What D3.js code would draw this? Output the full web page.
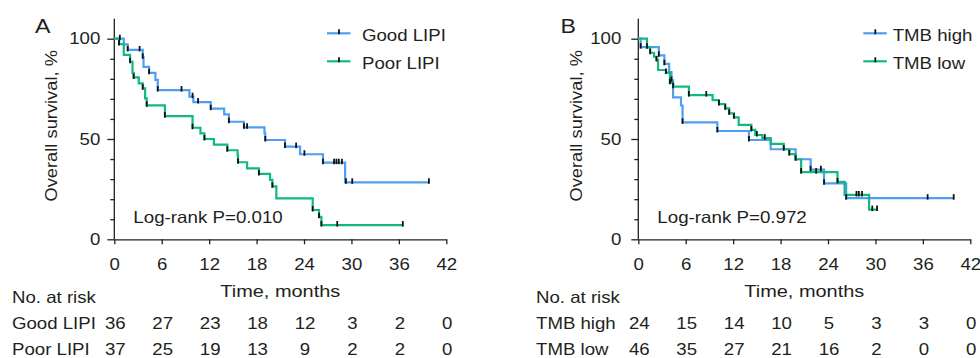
<!DOCTYPE html>
<html>
<head>
<meta charset="utf-8">
<script src="https://cdn.jsdelivr.net/npm/d3@7"></script>
<style>
  body { margin: 0; background: #fff; }
  svg text { font-family: "Liberation Sans", Arial, sans-serif; fill: #231f20; }
</style>
</head>
<body>
<svg id="chart" width="980" height="358"></svg>
<script>
// x ticks / risk table time points (months)
let riskTimes = [0, 6, 12, 18, 24, 30, 36, 42];

// panel A - LIPI
let goodTime = [0, 1.2, 1.7, 3.6, 3.7, 4.4, 5.2, 5.5, 9.5, 10.0, 12.2, 13.9, 14.5, 16.4, 19.0, 19.1, 21.6, 23.5, 26.4, 29.2];
let goodSurv = [100, 97.2, 94.4, 90.7, 86.0, 83.0, 79.5, 74.4, 71.1, 68.4, 65.1, 62.3, 58.6, 55.8, 52.8, 49.5, 46.2, 42.4, 38.2, 28.4];
let goodEnd = 39.8;
let goodCensor = [0.7, 1.7, 3.2, 3.6, 4.4, 5.5, 8.5, 9.9, 10.6, 12.2, 14.5, 16.4, 16.8, 19.1, 21.6, 23.0, 24.05, 26.4, 27.8, 28.1, 28.4, 28.8, 29.3, 30.1, 39.8];

let poorTime = [0, 0.6, 1.2, 2.0, 2.3, 2.45, 3.1, 3.6, 3.9, 4.1, 6.4, 9.9, 10.9, 11.4, 12.6, 14.3, 15.6, 15.65, 16.8, 18.3, 19.7, 20.0, 20.5, 25.1, 25.9, 26.2];
let poorSurv = [100, 97.3, 91.9, 88.5, 83.0, 80.7, 77.7, 75.3, 70.3, 66.8, 61.4, 55.6, 52.8, 50.0, 47.2, 44.4, 41.7, 38.4, 35.4, 32.6, 29.6, 26.4, 20.4, 14.6, 11.2, 7.1];
let poorEnd = 36.5;
let poorCensor = [0.6, 2.0, 2.45, 3.6, 4.1, 6.4, 9.9, 11.4, 14.3, 15.65, 18.3, 20.0, 25.1, 25.9, 26.2, 28.2, 36.5];

let goodRisk = [36, 27, 23, 18, 12, 3, 2, 0];
let poorRisk = [37, 25, 19, 13, 9, 2, 2, 0];

// panel B - TMB
let highTime = [0, 0.3, 2.6, 3.3, 3.9, 4.2, 4.4, 5.4, 5.6, 10.0, 14.0, 16.75, 19.9, 21.8, 23.5, 26.3];
let highSurv = [100, 95.8, 91.7, 87.5, 83.3, 79.2, 70.8, 66.7, 58.3, 54.0, 49.5, 44.9, 39.9, 34.7, 27.9, 20.5];
let highEnd = 39.9;
let highCensor = [0.3, 2.6, 3.3, 4.2, 5.6, 10.0, 14.0, 19.9, 21.8, 23.1, 23.5, 26.3, 36.6, 39.9];

let lowTime = [0, 1.1, 1.5, 2.0, 2.3, 2.5, 3.5, 4.0, 4.4, 6.4, 9.4, 10.2, 11.0, 11.5, 12.1, 12.7, 14.3, 14.8, 15.7, 16.75, 18.4, 19.1, 19.9, 20.6, 25.2, 26.1, 29.2];
let lowSurv = [100, 95.7, 93.0, 91.0, 89.4, 84.4, 83.1, 78.1, 76.1, 71.9, 69.4, 67.4, 65.3, 62.8, 60.8, 57.0, 54.5, 52.0, 50.4, 47.6, 44.9, 42.5, 39.9, 33.5, 28.6, 22.1, 14.8];
let lowEnd = 30.2;
let lowCensor = [1.1, 1.5, 2.3, 3.5, 4.0, 4.4, 6.4, 8.6, 10.2, 11.0, 11.5, 12.1, 14.3, 15.0, 16.0, 18.4, 19.1, 20.6, 22.5, 25.2, 27.6, 27.9, 28.3, 29.6, 30.2];

let highRisk = [24, 15, 14, 10, 5, 3, 3, 0];
let lowRisk = [46, 35, 27, 21, 16, 2, 0, 0];

const BLUE = "#4f9ef2", GREEN = "#12b97c";
const SX = 1.13; // the source fonts render a bit wider than Liberation Sans

let svg = d3.select("#chart");

// put a text at (x,y) stretched horizontally
function wideText(g, x, y, str, size, anchor) {
    return g.append("text")
        .attr("transform", `translate(${x},${y}) scale(${SX},1)`)
        .attr("text-anchor", anchor || "start")
        .style("font-size", size + "px")
        .text(str);
}

function stretchAxisText(axisG, size) {
    axisG.selectAll("text").each(function () {
        let t = d3.select(this);
        let x = +t.attr("x") || 0;
        t.attr("x", x / SX)
            .attr("transform", `scale(${SX},1)`)
            .style("font-size", size + "px")
            .attr("fill", "#231f20");
    });
}

function survAt(times, surv, t) {
    let s = surv[0];
    for (let i = 0; i < times.length; i++) if (times[i] <= t) s = surv[i];
    return s;
}

function drawPanel(cfg) {
    let x = d3.scaleLinear().domain([0, 42]).range([cfg.x0, cfg.x0 + 332]);
    let y = d3.scaleLinear().domain([0, 100]).range([239.3, 38.7]);
    let g = svg.append("g");

    // y axis: minor ticks then major ticks with labels
    g.append("g")
        .attr("transform", `translate(${cfg.x0},0)`)
        .call(d3.axisLeft(y).tickValues([10, 20, 30, 40, 60, 70, 80, 90]).tickSize(4).tickFormat(""))
        .call(a => a.select(".domain").remove());
    let yAx = g.append("g")
        .attr("transform", `translate(${cfg.x0},0)`)
        .call(d3.axisLeft(y).tickValues([0, 50, 100]).tickSize(7).tickSizeOuter(0).tickPadding(cfg.yPad));
    yAx.select(".domain").attr("d", `M0,${y(0)}V${y(110)}`);
    stretchAxisText(yAx, 16.5);

    let xAx = g.append("g")
        .attr("transform", `translate(0,${y(0)})`)
        .call(d3.axisBottom(x).tickValues(riskTimes).tickSize(5).tickSizeOuter(0).tickPadding(14));
    stretchAxisText(xAx, 16.5);
    g.selectAll(".domain, .tick line").attr("stroke", "#231f20").attr("stroke-width", 1.3);

    // survival curves
    let line = d3.line().x(d => x(d[0])).y(d => y(d[1])).curve(d3.curveStepAfter);
    cfg.series.forEach(s => {
        let pts = s.time.map((t, i) => [t, s.surv[i]]);
        pts.push([s.end, s.surv[s.surv.length - 1]]);
        g.append("path")
            .attr("d", line(pts))
            .attr("fill", "none")
            .attr("stroke", s.color)
            .attr("stroke-width", 2.2);
    });
    cfg.series.forEach(s => {
        g.selectAll(null)
            .data(s.censor)
            .enter()
            .append("line")
            .attr("x1", d => x(d)).attr("x2", d => x(d))
            .attr("y1", d => y(survAt(s.time, s.surv, d)) - 4)
            .attr("y2", d => y(survAt(s.time, s.surv, d)) + 1.5)
            .attr("stroke", "#111")
            .attr("stroke-width", 1.8);
    });

    // legend
    cfg.series.forEach((s, i) => {
        let ly = 33.3 + i * 28;
        g.append("line")
            .attr("x1", cfg.legX).attr("x2", cfg.legX + 23.5)
            .attr("y1", ly).attr("y2", ly)
            .attr("stroke", s.color).attr("stroke-width", 2.2);
        g.append("line")
            .attr("x1", cfg.legX + 12).attr("x2", cfg.legX + 12)
            .attr("y1", ly - 4).attr("y2", ly + 1)
            .attr("stroke", "#111").attr("stroke-width", 1.8);
        wideText(g, cfg.legX + cfg.legTextOff, ly + 7.3, s.name, 16.5);
    });

    // titles
    wideText(g, cfg.labelX, 33.3, cfg.label, 20.5);
    g.append("text")
        .attr("transform", `translate(${cfg.x0 - cfg.yTitleOff},125.8) rotate(-90)`)
        .attr("text-anchor", "middle")
        .attr("textLength", 151.5)
        .attr("lengthAdjust", "spacingAndGlyphs")
        .style("font-size", "16.5px")
        .text("Overall survival, %");
    g.append("text")
        .attr("x", x(0) + 19).attr("y", 222.7)
        .attr("textLength", 149.5)
        .attr("lengthAdjust", "spacingAndGlyphs")
        .style("font-size", "16.5px")
        .text(cfg.pText);
    g.append("text")
        .attr("x", x(21)).attr("y", 296.7)
        .attr("text-anchor", "middle")
        .attr("textLength", 120)
        .attr("lengthAdjust", "spacingAndGlyphs")
        .style("font-size", "16.5px")
        .text("Time, months");

    // number at risk table
    wideText(g, cfg.tableX, 303, "No. at risk", 16.5);
    cfg.series.forEach((s, i) => {
        let ry = 329 + i * 25.5;
        wideText(g, cfg.tableX, ry, s.name, 16.5);
        g.selectAll(null)
            .data(s.risk)
            .enter()
            .append("text")
            .attr("transform", (d, j) => `translate(${x(riskTimes[j]) + 1},${ry}) scale(${SX},1)`)
            .attr("text-anchor", "middle")
            .style("font-size", "16.5px")
            .text(d => d);
    });
}

drawPanel({
    x0: 114.3, yPad: 7, yTitleOff: 57.6, legX: 327, legTextOff: 35, labelX: 35, tableX: 12,
    label: "A", pText: "Log-rank P=0.010",
    series: [
        {name: "Good LIPI", color: BLUE, time: goodTime, surv: goodSurv, end: goodEnd, censor: goodCensor, risk: goodRisk},
        {name: "Poor LIPI", color: GREEN, time: poorTime, surv: poorSurv, end: poorEnd, censor: poorCensor, risk: poorRisk}
    ]
});

drawPanel({
    x0: 638.3, yPad: 10, yTitleOff: 56.6, legX: 863.3, legTextOff: 29.4, labelX: 560.5, tableX: 536,
    label: "B", pText: "Log-rank P=0.972",
    series: [
        {name: "TMB high", color: BLUE, time: highTime, surv: highSurv, end: highEnd, censor: highCensor, risk: highRisk},
        {name: "TMB low", color: GREEN, time: lowTime, surv: lowSurv, end: lowEnd, censor: lowCensor, risk: lowRisk}
    ]
});
</script>
</body>
</html>
